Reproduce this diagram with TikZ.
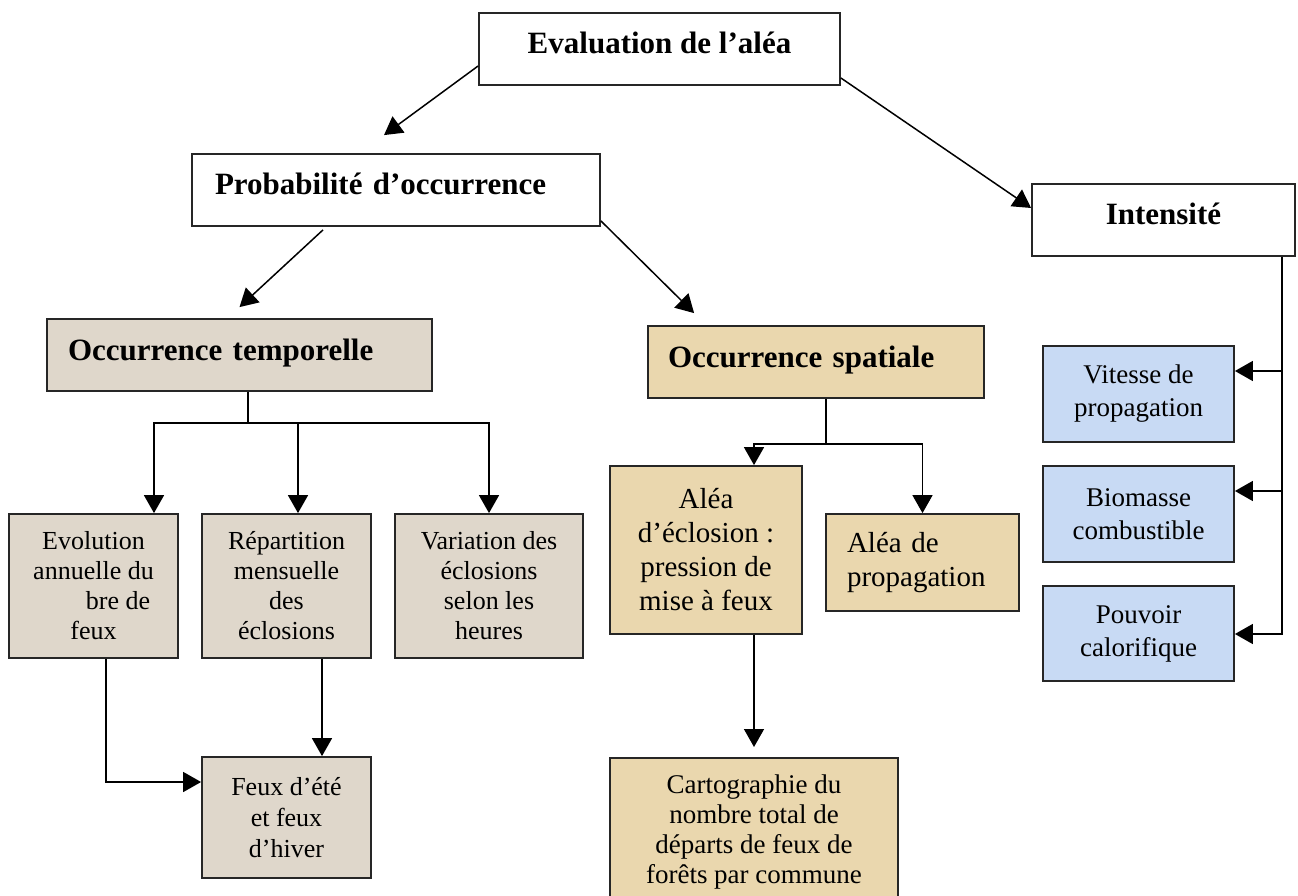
\documentclass[tikz,border=0pt]{standalone}
\usepackage{fontspec}
\setmainfont{Liberation Serif}
\usetikzlibrary{arrows.meta}
\definecolor{tempfill}{RGB}{223,215,203}
\definecolor{spatfill}{RGB}{234,215,174}
\definecolor{intfill}{RGB}{200,218,244}

\begin{document}
\begin{tikzpicture}[x=1pt,y=1pt,
  box/.style={draw=black!85,line width=1.8pt,inner sep=0pt},
  head/.style={box,fill=white,font=\fontsize{31}{36}\selectfont\bfseries,
    minimum height=72pt,text height=21pt,text depth=11pt},
  leaf/.style={box,align=center,font=\fontsize{26}{30}\selectfont},
  big/.style={font=\fontsize{29}{34}\selectfont},
  arr/.style={-{Triangle[length=18pt,width=20pt]},line width=1.5pt},
  link/.style={line width=1.5pt}]
  \useasboundingbox (0,0) rectangle (1298,-896);

  % Top levels
  \node[head,minimum width=361pt] (eval) at (659.5,-49) {Evaluation de l’aléa};
  \node[head,text width=362pt,inner xsep=23pt,align=left] (prob) at (396,-190) {Probabilité d’occurrence};
  \node[head,minimum width=263pt] (inten) at (1163.5,-220) {Intensité};
  \node[head,fill=tempfill,text width=343pt,inner xsep=21pt,align=left] (otemp) at (239.5,-355) {Occurrence temporelle};
  \node[head,fill=spatfill,text width=296pt,inner xsep=20pt,align=left] (ospat) at (816,-362) {Occurrence spatiale};

  % Temporal branch
  \node[leaf,fill=tempfill,minimum width=169pt,minimum height=144pt] (evol) at (93.5,-586)
    {Evolution\\annuelle du\\\hspace*{49pt}bre de\\feux};
  \node[leaf,fill=tempfill,minimum width=169pt,minimum height=144pt] (repart) at (286.5,-586)
    {Répartition\\mensuelle\\des\\éclosions};
  \node[leaf,fill=tempfill,minimum width=188pt,minimum height=144pt] (variat) at (489,-586)
    {Variation des\\éclosions\\selon les\\heures};
  \node[leaf,fill=tempfill,minimum width=169pt,minimum height=121pt,
    font=\fontsize{26}{31}\selectfont] (feux) at (286.5,-817.5)
    {Feux d’été\\et feux\\d’hiver};

  % Spatial branch
  \node[leaf,big,fill=spatfill,minimum width=192pt,minimum height=168pt] (aleclo) at (706,-550)
    {Aléa\\d’éclosion :\\pression de\\mise à feux};
  \node[leaf,big,fill=spatfill,text width=151pt,inner xsep=21pt,minimum height=97pt,align=left]
    (aleprop) at (922.5,-562.5) {Aléa de\\propagation};
  \node[leaf,fill=spatfill,minimum width=288pt,inner ysep=17pt,anchor=north,
    font=\fontsize{27}{30}\selectfont] (carto) at (754,-757)
    {Cartographie du\\nombre total de\\départs de feux de\\forêts par commune};

  % Intensity branch
  \node[leaf,fill=intfill,minimum width=191pt,minimum height=96pt,
    font=\fontsize{27}{33}\selectfont] (vitesse) at (1138.5,-394) {Vitesse de\\propagation};
  \node[leaf,fill=intfill,minimum width=191pt,minimum height=96pt,
    font=\fontsize{27}{33}\selectfont] (biomasse) at (1138.5,-514) {Biomasse\\combustible};
  \node[leaf,fill=intfill,minimum width=191pt,minimum height=95pt,
    font=\fontsize{27}{33}\selectfont] (pouvoir) at (1138.5,-633.5) {Pouvoir\\calorifique};

  % Diagonal arrows
  \draw[arr] ([yshift=-17pt]eval.west) -- ([xshift=-12pt,yshift=18pt]prob.north);
  \draw[arr] ([yshift=-29pt]eval.east) -- ([yshift=12pt]inten.west);
  \draw[arr] ([xshift=-73pt,yshift=-3pt]prob.south) -- ([yshift=11pt]otemp.north);
  \draw[arr] ([yshift=6pt]prob.south east) -- ([xshift=47pt,yshift=12pt]ospat.north west);

  % Temporal tree
  \coordinate (tbar) at ([xshift=8.5pt,yshift=-31pt]otemp.south);
  \coordinate (trep) at ([xshift=11.5pt]repart.north);
  \draw[link] ([xshift=8.5pt]otemp.south) -- (tbar);
  \draw[arr] (tbar) -| ([xshift=60.5pt]evol.north);
  \draw[arr] (tbar) -| (variat.north);
  \draw[arr] (tbar -| trep) -- (trep);

  % Summer / winter fires
  \coordinate (frep) at ([xshift=35.5pt]feux.north);
  \draw[arr] ([xshift=12.5pt]evol.south) |- ([yshift=35.5pt]feux.west);
  \draw[arr] (repart.south -| frep) -- (frep);

  % Spatial tree
  \coordinate (sbar) at ([xshift=10pt,yshift=-45pt]ospat.south);
  \draw[link] ([xshift=10pt]ospat.south) -- (sbar);
  \draw[arr] (sbar) -| ([xshift=48pt]aleclo.north);
  \draw[arr] (sbar) -| (aleprop.north);
  \draw[arr] (aleclo.south -| carto.north) -- ([yshift=10pt]carto.north);

  % Intensity tree
  \coordinate (ibar) at ([xshift=118.5pt]inten.south);
  \coordinate (i1) at ([yshift=23pt]vitesse.east);
  \coordinate (i2) at ([yshift=23pt]biomasse.east);
  \draw[arr] (ibar) |- ([yshift=-0.5pt]pouvoir.east);
  \draw[arr] (ibar |- i1) -- (i1);
  \draw[arr] (ibar |- i2) -- (i2);
\end{tikzpicture}
\end{document}
